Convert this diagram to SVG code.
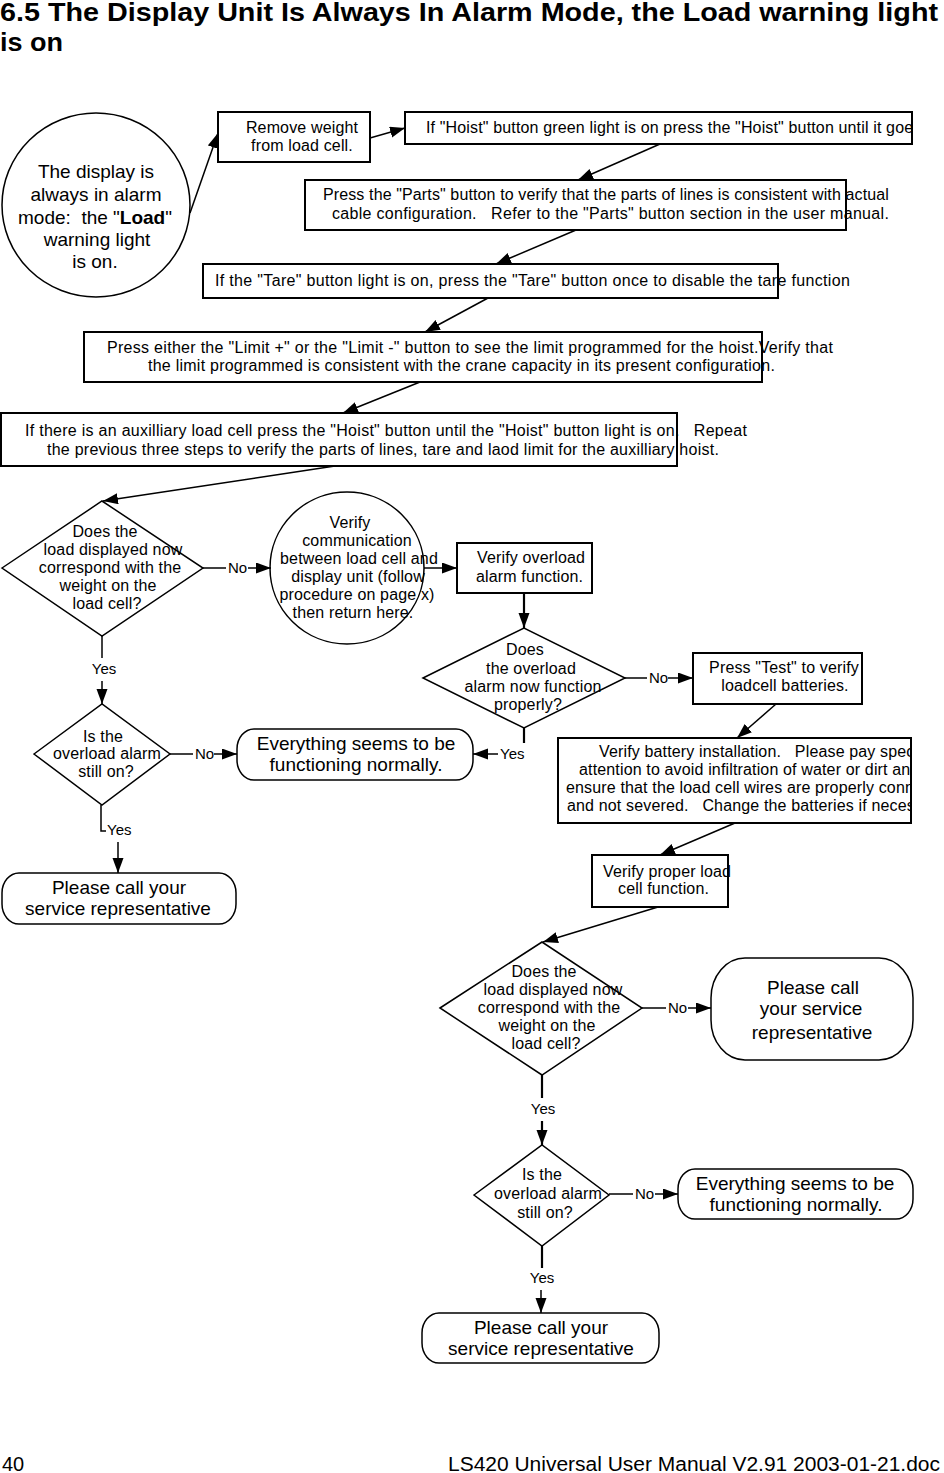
<svg xmlns="http://www.w3.org/2000/svg" width="944" height="1473" viewBox="0 0 944 1473">
<style>
text { font-family: "Liberation Sans", Arial, sans-serif; fill: #000; white-space: pre; }
.t { font-size: 16px; letter-spacing: 0.15px; }
.big { font-size: 19px; }
.lbl { font-size: 15px; }
.box { fill: #fff; stroke: #000; stroke-width: 2; }
.shp { fill: #fff; stroke: #000; stroke-width: 1.5; }
.ln { stroke: #000; stroke-width: 1.5; fill: none; }
.thick { stroke-width: 2.2; }
.ar { marker-end: url(#ah); }
.mid { text-anchor: middle; }
</style>
<defs>
<marker id="ah" markerUnits="userSpaceOnUse" markerWidth="16" markerHeight="12" refX="15" refY="5.5" orient="auto">
<path d="M0,0 L15,5.5 L0,11 z" fill="#000"/>
</marker>
<clipPath id="clipR"><rect x="0" y="0" width="911" height="1473"/></clipPath>
</defs>
<rect width="944" height="1473" fill="#fff"/>

<g id="title">
<text x="0" y="21" font-weight="bold" font-size="25" textLength="938" lengthAdjust="spacingAndGlyphs">6.5 The Display Unit Is Always In Alarm Mode, the Load warning light</text>
<text x="0" y="51" font-weight="bold" font-size="25" textLength="63" lengthAdjust="spacingAndGlyphs">is on</text>
</g>

<g id="n-start">
<ellipse cx="96" cy="205" rx="94" ry="92" class="shp"/>
<text class="big mid" x="96" y="178">The display is</text>
<text class="big mid" x="96" y="201">always in alarm</text>
<text class="big mid" x="95" y="224">mode:  the "<tspan font-weight="bold">Load</tspan>"</text>
<text class="big mid" x="97" y="246">warning light</text>
<text class="big mid" x="95" y="268">is on.</text>
</g>

<g id="n-remove">
<rect x="218" y="112" width="152" height="50" class="box"/>
<text class="t mid" x="302" y="133">Remove weight</text>
<text class="t mid" x="302" y="151">from load cell.</text>
</g>

<g id="n-hoist">
<rect x="405" y="112" width="507" height="32" class="box"/>
<text class="t" x="426" y="133" clip-path="url(#clipR)">If "Hoist" button green light is on press the "Hoist" button until it goes</text>
</g>

<g id="n-parts">
<rect x="305" y="180" width="541" height="50" class="box"/>
<text class="t" x="323" y="200" textLength="566" lengthAdjust="spacing">Press the "Parts" button to verify that the parts of lines is consistent with actual</text>
<text class="t" x="332" y="219" textLength="557" lengthAdjust="spacing">cable configuration.   Refer to the "Parts" button section in the user manual.</text>
</g>

<g id="n-tare">
<rect x="203" y="264" width="575" height="34" class="box"/>
<text class="t" x="215" y="286" textLength="635" lengthAdjust="spacing">If the "Tare" button light is on, press the "Tare" button once to disable the tare function</text>
</g>

<g id="n-limit">
<rect x="84" y="332" width="678" height="50" class="box"/>
<text class="t" x="107" y="353" textLength="726" lengthAdjust="spacing">Press either the "Limit +" or the "Limit -" button to see the limit programmed for the hoist.Verify that</text>
<text class="t" x="148" y="371" textLength="627" lengthAdjust="spacing">the limit programmed is consistent with the crane capacity in its present configuration.</text>
</g>

<g id="n-aux">
<rect x="1" y="413" width="676" height="53" class="box"/>
<text class="t" x="25" y="436" textLength="722" lengthAdjust="spacing">If there is an auxilliary load cell press the "Hoist" button until the "Hoist" button light is on.   Repeat</text>
<text class="t" x="47" y="455" textLength="672" lengthAdjust="spacing">the previous three steps to verify the parts of lines, tare and laod limit for the auxilliary hoist.</text>
</g>

<g id="n-d1">
<polygon points="2,568 102,501 203,568 102,636" class="shp"/>
<text class="t mid" x="105" y="537">Does the</text>
<text class="t mid" x="113" y="555">load displayed now</text>
<text class="t mid" x="110" y="573">correspond with the</text>
<text class="t mid" x="108" y="591">weight on the</text>
<text class="t mid" x="107" y="609">load cell?</text>
</g>

<g id="n-comm">
<ellipse cx="347" cy="568" rx="77" ry="76" class="shp"/>
<text class="t mid" x="350" y="528">Verify</text>
<text class="t mid" x="357" y="546">communication</text>
<text class="t mid" x="359" y="564">between load cell and</text>
<text class="t mid" x="358" y="582">display unit (follow</text>
<text class="t mid" x="357" y="600">procedure on page x)</text>
<text class="t mid" x="353" y="618">then return here.</text>
</g>

<g id="n-overload">
<rect x="457" y="543" width="135" height="50" class="box"/>
<text class="t" x="477" y="563">Verify overload</text>
<text class="t" x="476" y="582">alarm function.</text>
</g>

<g id="n-d2">
<polygon points="423,678 524,628 625,678 524,728" class="shp"/>
<text class="t mid" x="525" y="655">Does</text>
<text class="t mid" x="531" y="674">the overload</text>
<text class="t mid" x="533" y="692">alarm now function</text>
<text class="t mid" x="528" y="710">properly?</text>
</g>

<g id="n-test">
<rect x="693" y="653" width="169" height="51" class="box"/>
<text class="t mid" x="784" y="673">Press "Test" to verify</text>
<text class="t mid" x="785" y="691">loadcell batteries.</text>
</g>

<g id="n-battery">
<rect x="558" y="738" width="353" height="85" class="box"/>
<g clip-path="url(#clipR)">
<text class="t" x="599" y="757">Verify battery installation.   Please pay spec</text>
<text class="t" x="579" y="775">attention to avoid infiltration of water or dirt an</text>
<text class="t" x="566" y="793">ensure that the load cell wires are properly conne</text>
<text class="t" x="567" y="811">and not severed.   Change the batteries if necess</text>
</g>
</g>

<g id="n-d5">
<polygon points="34,754 102,704 170,754 102,805" class="shp"/>
<text class="t mid" x="103" y="742">Is the</text>
<text class="t mid" x="107" y="759">overload alarm</text>
<text class="t mid" x="106" y="777">still on?</text>
</g>

<g id="n-normal1">
<rect x="237" y="729" width="236" height="51" rx="17" ry="20" class="shp"/>
<text class="big mid" x="356" y="750">Everything seems to be</text>
<text class="big mid" x="356" y="771">functioning normally.</text>
</g>

<g id="n-call1">
<rect x="2" y="873" width="234" height="51" rx="17" ry="20" class="shp"/>
<text class="big mid" x="119" y="894">Please call your</text>
<text class="big mid" x="118" y="915">service representative</text>
</g>

<g id="n-loadcell">
<rect x="592" y="855" width="136" height="52" class="box"/>
<text class="t" x="603" y="877">Verify proper load</text>
<text class="t" x="618" y="894">cell function.</text>
</g>

<g id="n-d3">
<polygon points="440,1008 542,942 642,1008 542,1075" class="shp"/>
<text class="t mid" x="544" y="977">Does the</text>
<text class="t mid" x="553" y="995">load displayed now</text>
<text class="t mid" x="549" y="1013">correspond with the</text>
<text class="t mid" x="547" y="1031">weight on the</text>
<text class="t mid" x="546" y="1049">load cell?</text>
</g>

<g id="n-call2">
<rect x="711" y="958" width="202" height="102" rx="34" ry="40" class="shp"/>
<text class="big mid" x="813" y="994">Please call</text>
<text class="big mid" x="811" y="1015">your service</text>
<text class="big mid" x="812" y="1039">representative</text>
</g>

<g id="n-d4">
<polygon points="474,1195 542,1145 609,1195 542,1246" class="shp"/>
<text class="t mid" x="542" y="1180">Is the</text>
<text class="t mid" x="548" y="1199">overload alarm</text>
<text class="t mid" x="545" y="1218">still on?</text>
</g>

<g id="n-normal2">
<rect x="678" y="1169" width="235" height="50" rx="17" ry="20" class="shp"/>
<text class="big mid" x="795" y="1190">Everything seems to be</text>
<text class="big mid" x="796" y="1211">functioning normally.</text>
</g>

<g id="n-call3">
<rect x="422" y="1313" width="237" height="50" rx="17" ry="20" class="shp"/>
<text class="big mid" x="541" y="1334">Please call your</text>
<text class="big mid" x="541" y="1355">service representative</text>
</g>

<g id="connectors">
<line class="ln ar" x1="190" y1="213" x2="218" y2="133"/>
<line class="ln ar" x1="370" y1="138" x2="405" y2="128"/>
<line class="ln ar" x1="660" y1="144" x2="578" y2="180"/>
<line class="ln ar" x1="576" y1="230" x2="496" y2="264"/>
<line class="ln ar" x1="488" y1="298" x2="425" y2="332"/>
<line class="ln ar" x1="420" y1="382" x2="343" y2="413"/>
<line class="ln ar" x1="335" y1="466" x2="103" y2="501"/>
<line class="ln" x1="203" y1="568" x2="226" y2="568"/>
<text class="lbl" x="228" y="573">No</text>
<line class="ln ar" x1="248" y1="568" x2="271" y2="568"/>
<line class="ln ar" x1="424" y1="568" x2="457" y2="568"/>
<line class="ln thick ar" x1="524" y1="593" x2="524" y2="628"/>
<line class="ln" x1="625" y1="678" x2="647" y2="678"/>
<text class="lbl" x="649" y="683">No</text>
<line class="ln ar" x1="668" y1="678" x2="693" y2="678"/>
<line class="ln ar" x1="776" y1="704" x2="737" y2="738"/>
<line class="ln ar" x1="735" y1="823" x2="660" y2="855"/>
<line class="ln ar" x1="658" y1="907" x2="543" y2="942"/>
<line class="ln thick" x1="524" y1="728" x2="524" y2="743"/>
<text class="lbl" x="500" y="759">Yes</text>
<line class="ln ar" x1="498" y1="754" x2="473" y2="754"/>
<line class="ln" x1="102" y1="636" x2="102" y2="658"/>
<text class="lbl mid" x="104" y="674">Yes</text>
<line class="ln ar" x1="102" y1="681" x2="102" y2="704"/>
<line class="ln" x1="170" y1="754" x2="193" y2="754"/>
<text class="lbl" x="195" y="759">No</text>
<line class="ln ar" x1="214" y1="754" x2="237" y2="754"/>
<polyline class="ln" points="101,805 101,831 106,831"/>
<text class="lbl" x="107" y="835">Yes</text>
<line class="ln ar" x1="118" y1="842" x2="118" y2="873"/>
<line class="ln" x1="642" y1="1008" x2="666" y2="1008"/>
<text class="lbl" x="668" y="1013">No</text>
<line class="ln ar" x1="688" y1="1008" x2="711" y2="1008"/>
<line class="ln thick" x1="542" y1="1075" x2="542" y2="1098"/>
<text class="lbl mid" x="543" y="1114">Yes</text>
<line class="ln thick ar" x1="542" y1="1121" x2="542" y2="1145"/>
<line class="ln" x1="609" y1="1194" x2="633" y2="1194"/>
<text class="lbl" x="635" y="1199">No</text>
<line class="ln ar" x1="655" y1="1194" x2="678" y2="1194"/>
<line class="ln thick" x1="542" y1="1246" x2="542" y2="1268"/>
<text class="lbl mid" x="542" y="1283">Yes</text>
<line class="ln ar" x1="541" y1="1290" x2="541" y2="1313"/>
</g>

<g id="footer">
<text x="2" y="1471" font-size="20">40</text>
<text x="448" y="1471" font-size="20" textLength="492" lengthAdjust="spacingAndGlyphs">LS420 Universal User Manual V2.91 2003-01-21.doc</text>
</g>
</svg>
